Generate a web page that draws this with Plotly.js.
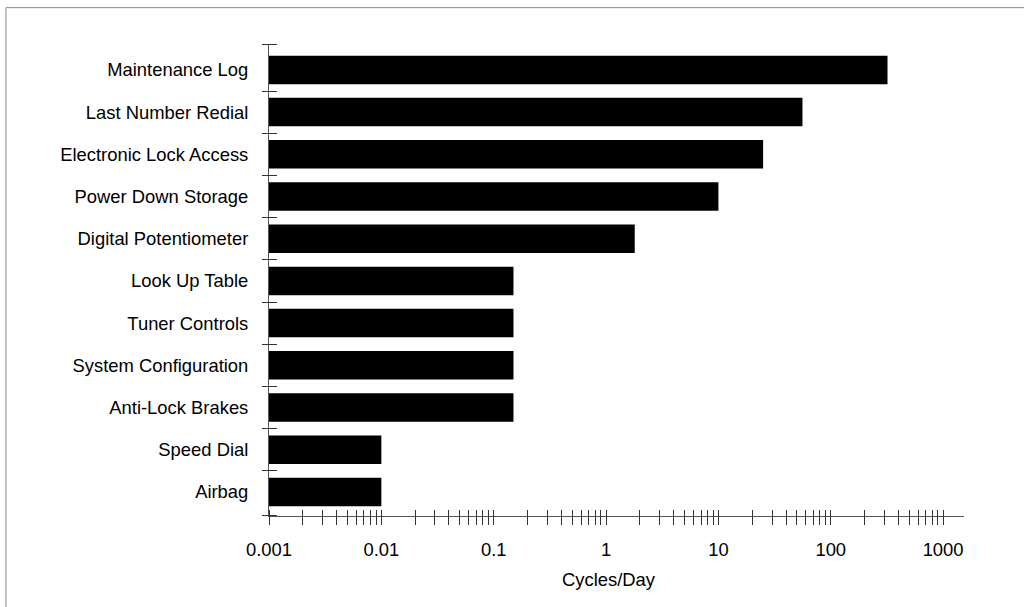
<!DOCTYPE html>
<html>
<head>
<meta charset="utf-8">
<script src="https://cdn.plot.ly/plotly-3.0.1.min.js"></script>
<style>
  html, body { margin: 0; padding: 0; background: #fff; }
  #chart { width: 1024px; height: 607px; }
</style>
</head>
<body>
<div id="chart"></div>
<script>
// Categories, bottom to top as drawn
var categories = [
  "Airbag",
  "Speed Dial",
  "Anti-Lock Brakes",
  "System Configuration",
  "Tuner Controls",
  "Look Up Table",
  "Digital Potentiometer",
  "Power Down Storage",
  "Electronic Lock Access",
  "Last Number Redial",
  "Maintenance Log"
];
// Cycles/Day for each category
var cyclesPerDay = [0.01, 0.01, 0.15, 0.15, 0.15, 0.15, 1.8, 10, 25, 56, 320];

// X tick labels (decades) and minor ticks
var decadeValues = [0.001, 0.01, 0.1, 1, 10, 100, 1000];
var decadeLabels = ["0.001", "0.01", "0.1", "1", "10", "100", "1000"];
var minorMultipliers = [2, 3, 4, 5, 6, 7, 8, 9];

// Y tick marks at category boundaries plus the axis ends
var yBoundaryTicks = [-0.566, 0.5, 1.5, 2.5, 3.5, 4.5, 5.5, 6.5, 7.5, 8.5, 9.5, 10.61];

var xTickVals = [], xTickText = [];
decadeValues.forEach(function (d, i) {
  xTickVals.push(d); xTickText.push(decadeLabels[i]);
  if (d < 1000) {
    minorMultipliers.forEach(function (m) { xTickVals.push(d * m); xTickText.push(""); });
  }
});

var FONT = { family: "Liberation Sans, Arial, Helvetica, sans-serif", size: 18.4, color: "#000" };
var LINE = "#555";
var TICK = "#333";
var yRange = [-0.571, 10.614];
var xRange = [-3, 3.186];
var PLOT_W = 695.3, PLOT_H = 471.7;

var traces = [
  {
    type: "bar",
    orientation: "h",
    x: cyclesPerDay,
    y: categories,
    marker: { color: "#000", line: { width: 0 } },
    hoverinfo: "x+y"
  },
  {
    type: "scatter", mode: "markers", x: [], y: [],
    xaxis: "x2", yaxis: "y2", showlegend: false, hoverinfo: "skip"
  }
];

var layout = {
  width: 1024, height: 607,
  margin: { l: 268.7, r: 60, t: 44.3, b: 91, pad: 0 },
  paper_bgcolor: "#fff", plot_bgcolor: "#fff",
  showlegend: false,
  bargap: 0.324,
  font: FONT,
  xaxis: {
    type: "log",
    range: xRange,
    tickmode: "array", tickvals: decadeValues, ticktext: decadeLabels,
    ticks: "",
    showline: true, linecolor: LINE, linewidth: 1,
    showgrid: false, zeroline: false,
    tickfont: FONT,
    ticklabelstandoff: 17,
    anchor: "y"
  },
  // crossing tick marks: a free axis shifted 7px above the x axis line, ticks 15px long
  xaxis2: {
    type: "log", overlaying: "x", anchor: "free", position: 7 / PLOT_H, side: "bottom",
    range: xRange,
    tickmode: "array", tickvals: xTickVals,
    ticks: "outside", ticklen: 15, tickwidth: 1, tickcolor: TICK,
    showticklabels: false, showline: false, showgrid: false, zeroline: false
  },
  yaxis: {
    type: "category",
    categoryorder: "array", categoryarray: categories,
    range: yRange,
    ticks: "",
    showline: true, linecolor: LINE, linewidth: 1,
    showgrid: false, zeroline: false,
    tickfont: FONT,
    ticklabelstandoff: 16,
    anchor: "x"
  },
  // crossing tick marks: a free axis shifted 8px right of the y axis line, ticks 15px long
  yaxis2: {
    type: "linear", overlaying: "y", anchor: "free", position: 8 / PLOT_W, side: "left",
    range: yRange,
    tickmode: "array", tickvals: yBoundaryTicks,
    ticks: "outside", ticklen: 15, tickwidth: 1, tickcolor: TICK,
    showticklabels: false, showline: false, showgrid: false, zeroline: false
  },
  annotations: [
    {
      text: "Cycles/Day", xref: "paper", yref: "paper",
      x: 0.4894, y: -0.1336, xanchor: "center", yanchor: "middle",
      showarrow: false, font: FONT
    }
  ],
  shapes: [
    {
      type: "line", xref: "paper", yref: "paper",
      x0: -0.3785, x1: -0.3785, y0: -0.22, y1: 1.0770,
      line: { color: "#888", width: 1 }, layer: "below"
    },
    {
      type: "line", xref: "paper", yref: "paper",
      x0: -0.3785, x1: 1.10, y0: 1.0770, y1: 1.0770,
      line: { color: "#888", width: 1 }, layer: "below"
    }
  ]
};

Plotly.newPlot("chart", traces, layout, { displayModeBar: false, staticPlot: true });
</script>
</body>
</html>
